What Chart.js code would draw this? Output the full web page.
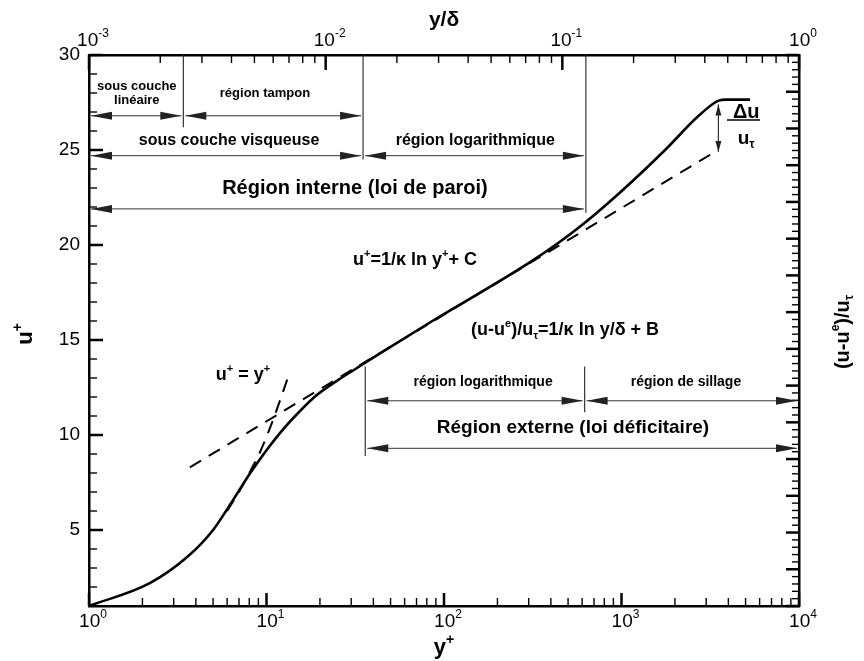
<!DOCTYPE html>
<html>
<head>
<meta charset="utf-8">
<script src="https://cdn.jsdelivr.net/npm/chart.js@4.4.1/dist/chart.umd.min.js"></script>
<style>
html, body { margin: 0; padding: 0; background: #fff; }
</style>
</head>
<body>
<canvas id="profil" width="864" height="661"></canvas>
<script>
// profil de vitesse (loi de paroi)
var profileYPlus = [1, 2.2, 3.6, 5.0, 6.5, 8.1, 10, 12.4, 15.4, 19.2, 24.9, 32, 43.6, 86, 318, 554, 964, 1760, 2720, 3530, 3900, 5300];
var profileUPlus = [1.0, 2.2, 3.6, 5.0, 6.6, 8.0, 9.2, 10.3, 11.25, 12.1, 12.85, 13.5, 14.3, 16.0, 19.2, 20.8, 22.7, 25.0, 26.8, 27.6, 27.65, 27.65];

var linearLawYPlus = [6.0, 7.0, 8.0, 9.0, 10.0, 11.0, 12.0, 13.4];
var linearLawUPlus = [6.0, 7.0, 8.0, 8.9, 9.9, 10.9, 11.9, 13.2];

var logLawYPlus = [3.7, 3500];
var logLawUPlus = [8.3, 25.0];

var yPlusTicks = [1, 10, 100, 1000, 10000];
var yDeltaTicks = [0.001, 0.01, 0.1, 1];
var uPlusTicks = [5, 10, 15, 20, 25, 30];

// annotations (en unites des axes)
var vLines = [
    {x: 3.4, u0: 30, u1: 26.2},
    {x: 35, u0: 30, u1: 24.5},
    {x: 630, u0: 30, u1: 21.7},
    {x: 36, u0: 13.6, u1: 8.9},
    {x: 620, u0: 13.6, u1: 11.2}
];
var spans = [
    {u: 26.8, x0: 1, x1: 3.4},
    {u: 26.8, x0: 3.4, x1: 35},
    {u: 24.7, x0: 1, x1: 35},
    {u: 24.7, x0: 35, x1: 630},
    {u: 21.9, x0: 1, x1: 630},
    {u: 11.8, x0: 36, x1: 620},
    {u: 11.8, x0: 620, x1: 10000},
    {u: 9.3, x0: 36, x1: 10000}
];
var notes = [
    {t: 'sous couche', x: 1.86, u: 28.37, size: 13},
    {t: 'linéaire', x: 1.86, u: 27.63, size: 13},
    {t: 'région tampon', x: 9.8, u: 28.0, size: 13},
    {t: 'sous couche visqueuse', x: 6.15, u: 25.47, size: 16},
    {t: 'région logarithmique', x: 150, u: 25.47, size: 16},
    {t: 'Région interne (loi de paroi)', x: 31.5, u: 23.0, size: 20},
    {t: 'u^{+}=1/κ ln y^{+}+ C', x: 68.7, u: 19.2, size: 18},
    {t: '(u-u^{e})/u_{τ}=1/κ ln y/δ + B', x: 481, u: 15.5, size: 18},
    {t: 'u^{+} = y^{+}', x: 7.37, u: 13.16, size: 18},
    {t: 'région logarithmique', x: 166, u: 12.8, size: 14},
    {t: 'région de sillage', x: 2308, u: 12.8, size: 14},
    {t: 'Région externe (loi déficitaire)', x: 533, u: 10.37, size: 19},
    {t: 'Δu', x: 5040, u: 26.95, size: 20},
    {t: 'u_{τ}', x: 5040, u: 25.58, size: 19}
];

var FONT = "'Liberation Sans', Arial, Helvetica, sans-serif";

function toPoints(xs, ys) {
    var pts = [];
    for (var i = 0; i < xs.length; i++) pts.push({x: xs[i], y: ys[i]});
    return pts;
}

function parseRich(s) {
    var out = [], re = /([\^_])\{([^}]*)\}/g, last = 0, m;
    while ((m = re.exec(s))) {
        if (m.index > last) out.push({t: s.slice(last, m.index), mode: ''});
        out.push({t: m[2], mode: m[1] == '^' ? 'sup' : 'sub'});
        last = re.lastIndex;
    }
    if (last < s.length) out.push({t: s.slice(last), mode: ''});
    return out;
}

function drawRich(ctx, s, x, y, size, opts) {
    opts = opts || {};
    var parts = parseRich(s);
    var weight = opts.bold === false ? '' : 'bold ';
    var small = Math.round(size * 0.62);
    var total = 0;
    parts.forEach(function(p) {
        ctx.font = weight + (p.mode ? small : size) + 'px ' + FONT;
        p.w = ctx.measureText(p.t).width;
        total += p.w;
    });
    ctx.save();
    ctx.translate(x, y);
    if (opts.rotate) ctx.rotate(opts.rotate);
    var cx = opts.align == 'left' ? 0 : (opts.align == 'right' ? -total : -total / 2);
    ctx.textBaseline = 'middle';
    ctx.textAlign = 'left';
    ctx.fillStyle = '#000';
    parts.forEach(function(p) {
        ctx.font = weight + (p.mode ? small : size) + 'px ' + FONT;
        var dy = p.mode == 'sup' ? -size * 0.36 : (p.mode == 'sub' ? size * 0.32 : 0);
        ctx.fillText(p.t, cx, dy);
        cx += p.w;
    });
    ctx.restore();
}

function arrowHead(ctx, x, y, dx, dy, len, hw) {
    // pointe en (x,y), direction (dx,dy)
    var nx = -dy, ny = dx;
    ctx.beginPath();
    ctx.moveTo(x, y);
    ctx.lineTo(x - dx * len + nx * hw, y - dy * len + ny * hw);
    ctx.lineTo(x - dx * len - nx * hw, y - dy * len - ny * hw);
    ctx.closePath();
    ctx.fill();
}

function supLabel(v) {
    return '10^{' + Math.round(Math.log10(v)) + '}';
}

var decorPlugin = {
    id: 'decor',
    afterDraw: function(chart) {
        var ctx = chart.ctx;
        var sx = chart.scales.x, sx2 = chart.scales.x2, sy = chart.scales.y, sy2 = chart.scales.y2;
        var a = chart.chartArea;
        ctx.save();
        ctx.strokeStyle = '#000';
        ctx.lineCap = 'butt';

        // graduations vers l'interieur
        function tickX(scale, v, yEdge, dir, len, w) {
            var px = scale.getPixelForValue(v);
            ctx.lineWidth = w;
            ctx.beginPath(); ctx.moveTo(px, yEdge); ctx.lineTo(px, yEdge + dir * len); ctx.stroke();
        }
        function tickY(scale, v, xEdge, dir, len, w) {
            var py = scale.getPixelForValue(v);
            ctx.lineWidth = w;
            ctx.beginPath(); ctx.moveTo(xEdge, py); ctx.lineTo(xEdge + dir * len, py); ctx.stroke();
        }
        yPlusTicks.forEach(function(d, i) {
            tickX(sx, d, a.bottom, -1, 13, 2.5);
            if (i < yPlusTicks.length - 1) for (var k = 2; k <= 9; k++) tickX(sx, d * k, a.bottom, -1, 8, 1.4);
        });
        yDeltaTicks.forEach(function(d, i) {
            tickX(sx2, d, a.top, 1, 15, 2.5);
            if (i < yDeltaTicks.length - 1) for (var k = 2; k <= 9; k++) tickX(sx2, d * k, a.top, 1, 8, 1.4);
        });
        for (var v = 1; v <= 30; v++) tickY(sy, v, a.left, 1, v % 5 == 0 ? 14 : 8, v % 5 == 0 ? 2.5 : 1.4);
        for (var j = 0; j <= 75; j++) tickY(sy2, j / 5, a.right, -1, j % 5 == 0 ? 13 : 7, j % 5 == 0 ? 2.5 : 1.4);

        // etiquettes des axes log
        yPlusTicks.forEach(function(d) { drawRich(ctx, supLabel(d), sx.getPixelForValue(d) + 4, a.bottom + 16, 19, {bold: false}); });
        yDeltaTicks.forEach(function(d) { drawRich(ctx, supLabel(d), sx2.getPixelForValue(d) + 4, a.top - 14, 19, {bold: false}); });

        // titres d'axes
        drawRich(ctx, 'y/δ', (a.left + a.right) / 2, 20, 21);
        drawRich(ctx, 'y^{+}', (a.left + a.right) / 2, 648, 22);
        drawRich(ctx, 'u^{+}', 26, 334, 22, {rotate: -Math.PI / 2});
        drawRich(ctx, '(u-u^{e})/u_{τ}', 843, 332, 20, {rotate: -Math.PI / 2});

        // traits verticaux de separation
        ctx.strokeStyle = '#333';
        ctx.lineWidth = 1.2;
        vLines.forEach(function(l) {
            var px = sx.getPixelForValue(l.x);
            ctx.beginPath(); ctx.moveTo(px, sy.getPixelForValue(l.u0)); ctx.lineTo(px, sy.getPixelForValue(l.u1)); ctx.stroke();
        });

        // fleches doubles
        ctx.fillStyle = '#222';
        spans.forEach(function(s) {
            var x0 = sx.getPixelForValue(s.x0) + 2, x1 = sx.getPixelForValue(s.x1) - 2, py = sy.getPixelForValue(s.u);
            ctx.lineWidth = 1;
            ctx.beginPath(); ctx.moveTo(x0, py); ctx.lineTo(x1, py); ctx.stroke();
            arrowHead(ctx, x0, py, -1, 0, 21, 4);
            arrowHead(ctx, x1, py, 1, 0, 21, 4);
        });

        // delta u / u_tau
        var dxp = sx.getPixelForValue(3515), top = sy.getPixelForValue(27.4), bot = sy.getPixelForValue(24.9);
        ctx.lineWidth = 1.2;
        ctx.beginPath(); ctx.moveTo(dxp, top); ctx.lineTo(dxp, bot); ctx.stroke();
        arrowHead(ctx, dxp, top, 0, -1, 11, 3);
        arrowHead(ctx, dxp, bot, 0, 1, 11, 3);
        ctx.strokeStyle = '#000';
        ctx.lineWidth = 1.5;
        var fy = sy.getPixelForValue(26.58);
        ctx.beginPath(); ctx.moveTo(sx.getPixelForValue(3930), fy); ctx.lineTo(sx.getPixelForValue(6030), fy); ctx.stroke();

        notes.forEach(function(n) {
            drawRich(ctx, n.t, sx.getPixelForValue(n.x), sy.getPixelForValue(n.u), n.size);
        });
        ctx.restore();
    }
};

new Chart(document.getElementById('profil'), {
    type: 'line',
    data: {
        datasets: [
            {
                label: 'profil',
                data: toPoints(profileYPlus, profileUPlus),
                borderColor: '#000',
                borderWidth: 2.6,
                pointRadius: 0,
                cubicInterpolationMode: 'monotone'
            },
            {
                label: 'u+ = y+',
                data: toPoints(linearLawYPlus, linearLawUPlus),
                borderColor: '#000',
                borderWidth: 2,
                borderDash: [13, 9],
                pointRadius: 0,
                tension: 0
            },
            {
                label: 'loi log',
                data: toPoints(logLawYPlus, logLawUPlus),
                borderColor: '#000',
                borderWidth: 2,
                borderDash: [13, 9],
                pointRadius: 0,
                tension: 0
            }
        ]
    },
    options: {
        responsive: false,
        animation: false,
        devicePixelRatio: 1,
        layout: { padding: 0 },
        plugins: { legend: { display: false }, tooltip: { enabled: false } },
        scales: {
            x: {
                type: 'logarithmic', position: 'bottom', min: 1, max: 10000,
                grid: { drawOnChartArea: false, drawTicks: false },
                border: { color: '#000', width: 2.5 },
                ticks: { display: false },
                afterFit: function(s) { s.height = 55; }
            },
            x2: {
                type: 'logarithmic', position: 'top', min: 0.001, max: 1,
                grid: { drawOnChartArea: false, drawTicks: false },
                border: { color: '#000', width: 2.5 },
                ticks: { display: false },
                afterFit: function(s) { s.height = 55; }
            },
            y: {
                type: 'linear', position: 'left', min: 1, max: 30,
                grid: { drawOnChartArea: false, drawTicks: false },
                border: { color: '#000', width: 2.5 },
                ticks: { color: '#000', padding: 9, font: { family: FONT, size: 19 } },
                afterBuildTicks: function(s) { s.ticks = uPlusTicks.map(function(v) { return {value: v}; }); },
                afterFit: function(s) { s.width = 89; }
            },
            y2: {
                type: 'linear', position: 'right', min: 0, max: 15,
                grid: { drawOnChartArea: false, drawTicks: false },
                border: { color: '#000', width: 2.5 },
                ticks: { display: false },
                afterFit: function(s) { s.width = 65; }
            }
        }
    },
    plugins: [decorPlugin]
});
</script>
</body>
</html>
